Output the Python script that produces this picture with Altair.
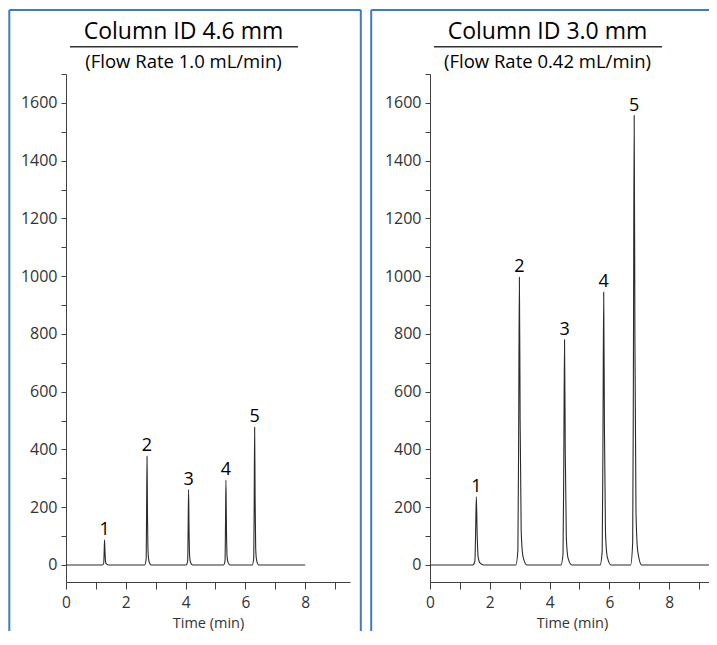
import altair as alt
import pandas as pd

# ---------------- data ----------------
titles = ["Column ID 4.6 mm", "Column ID 3.0 mm"]
subtitles = ["(Flow Rate 1.0 mL/min)", "(Flow Rate 0.42 mL/min)"]

# chromatogram, Column ID 4.6 mm (time in min, signal)
time_46 = [0.0,
           1.21, 1.26, 1.275, 1.29, 1.305, 1.325, 1.36, 1.43,
           2.63, 2.68, 2.695, 2.71, 2.725, 2.745, 2.78, 2.85,
           4.02, 4.07, 4.085, 4.10, 4.115, 4.135, 4.17, 4.24,
           5.27, 5.32, 5.335, 5.35, 5.365, 5.385, 5.42, 5.49,
           6.23, 6.28, 6.295, 6.31, 6.325, 6.345, 6.38, 6.45,
           8.0]
signal_46 = [0,
             0, 4, 39, 87, 44, 10, 3, 0,
             0, 19, 169, 376, 188, 45, 11, 0,
             0, 13, 117, 261, 131, 31, 8, 0,
             0, 15, 132, 294, 147, 35, 9, 0,
             0, 24, 215, 477, 239, 57, 14, 0,
             0]

# chromatogram, Column ID 3.0 mm
time_30 = [0.0,
           1.43, 1.50, 1.525, 1.55, 1.575, 1.61, 1.67, 1.80,
           2.87, 2.94, 2.965, 2.99, 3.015, 3.05, 3.11, 3.24,
           4.38, 4.45, 4.475, 4.50, 4.525, 4.56, 4.62, 4.75,
           5.69, 5.76, 5.785, 5.81, 5.835, 5.87, 5.93, 6.06,
           6.71, 6.78, 6.805, 6.83, 6.855, 6.89, 6.95, 7.08,
           9.5]
signal_30 = [0,
             0, 12, 107, 237, 119, 28, 7, 0,
             0, 50, 448, 996, 498, 120, 30, 0,
             0, 39, 351, 780, 390, 94, 23, 0,
             0, 47, 425, 944, 472, 113, 28, 0,
             0, 78, 700, 1556, 778, 187, 47, 0,
             0]

peak_ids = ["1", "2", "3", "4", "5"]
peak_time_46 = [1.29, 2.71, 4.10, 5.35, 6.31]
peak_height_46 = [87, 376, 261, 294, 477]
peak_time_30 = [1.55, 2.99, 4.50, 5.81, 6.83]
peak_height_30 = [237, 996, 780, 944, 1556]

x_ticks = list(range(0, 10))
y_ticks = list(range(0, 1800, 100))

# ---------------- style ----------------
FONT = "Open Sans"
AX = "#404040"
BLUE = "#3d7cc0"
W, H = 284, 508


def panel(t, s, pt, ph, title, subtitle, box_left, box_right, right_side):
    trace = pd.DataFrame({"t": t, "s": s})
    peaks = pd.DataFrame({"t": pt, "s": ph, "id": peak_ids})
    head = pd.DataFrame({"title": [title], "subtitle": [subtitle]})

    x = alt.X("t:Q",
              scale=alt.Scale(domain=[0, 9.5], nice=False, zero=False),
              axis=alt.Axis(values=x_ticks, format="d",
                            labelExpr="datum.value % 2 == 0 ? datum.label : ''",
                            labelFlush=False, labelOverlap=False,
                            title="Time (min)"))
    y = alt.Y("s:Q",
              scale=alt.Scale(domain=[-59, 1700], nice=False, zero=False),
              axis=alt.Axis(values=y_ticks, format="d",
                            labelExpr="datum.value % 200 == 0 && datum.value <= 1600 ? datum.label : ''",
                            labelFlush=False, labelOverlap=False, title=None))

    line = alt.Chart(trace).mark_line(
        color="#2b2b2b", strokeWidth=1.1, interpolate="monotone"
    ).encode(x=x, y=y)

    labels = alt.Chart(peaks).mark_text(
        font=FONT, fontSize=18, color="black", baseline="alphabetic", dy=-5
    ).encode(x=x, y=y, text="id:N")

    deco = alt.Chart(head)
    ttl = deco.mark_text(font=FONT, fontSize=23, color="black",
                         align="center", baseline="alphabetic").encode(
        x=alt.value(117.5), y=alt.value(-35), text="title:N")
    sub = deco.mark_text(font=FONT, fontSize=18.5, color="black",
                         align="center", baseline="alphabetic").encode(
        x=alt.value(117.5), y=alt.value(-5.7), text="subtitle:N")
    underline = deco.mark_rule(color="#333333", strokeWidth=1.5).encode(
        x=alt.value(4), x2=alt.value(232), y=alt.value(-27.3))

    b_top = deco.mark_rule(color=BLUE, strokeWidth=2).encode(
        x=alt.value(box_left), x2=alt.value(box_right), y=alt.value(-64))
    b_left = deco.mark_rule(color=BLUE, strokeWidth=2).encode(
        x=alt.value(box_left), y=alt.value(-64), y2=alt.value(557))
    layers = [b_top, b_left]
    if right_side:
        b_right = deco.mark_rule(color=BLUE, strokeWidth=2).encode(
            x=alt.value(box_right), y=alt.value(-64), y2=alt.value(557))
        layers.append(b_right)

    return alt.layer(*layers, underline, ttl, sub, line, labels).properties(
        width=W, height=H)


left = panel(time_46, signal_46, peak_time_46, peak_height_46,
             titles[0], subtitles[0], -56.7, 294.8, True)
right = panel(time_30, signal_30, peak_time_30, peak_height_30,
              titles[1], subtitles[1], -58.8, 290, False)

chart = alt.hconcat(left, right, spacing=8).properties(
    padding={"left": 0, "top": 1, "right": -12, "bottom": 0}
).configure_view(stroke=None).configure_axis(
    domainColor=AX, tickColor=AX, labelColor="#333333",
    labelFont=FONT, labelFontSize=16,
    titleFont=FONT, titleFontSize=14.5, titleFontWeight="normal",
    titleColor="#333333", grid=False, domainWidth=1, tickWidth=1,
).configure_axisX(
    tickSize=7, labelPadding=6, labelFontSize=15.5,
    titleBaseline="alphabetic", titleY=45.5
).configure_axisY(
    tickSize=5, labelPadding=4
)

chart.save("out.html", embed_options={"renderer": "svg", "actions": False})
